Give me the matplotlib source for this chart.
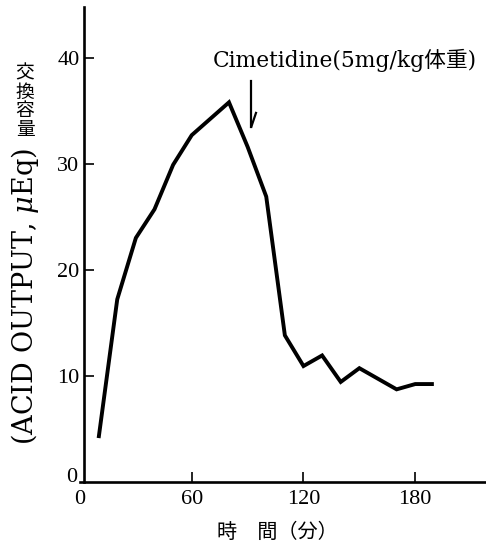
"""
Acid output after cimetidine: hand-drawn style time course.
"""
import matplotlib.pyplot as plt
import matplotlib.transforms as mtransforms

# data (minutes, microequivalents)
times = [10, 20, 30, 40, 50, 60, 80, 90, 100, 110, 120, 130, 140, 150, 170, 180, 190]
acid_output = [4.1, 17.2, 23.0, 25.7, 29.9, 32.7, 35.8, 31.6, 26.9, 13.8,
               10.9, 11.9, 9.4, 10.7, 8.7, 9.2, 9.2]
x_ticks = [0, 60, 120, 180]
y_ticks = [0, 10, 20, 30, 40]

dose_time = 92
dose_label = "Cimetidine(5mg/kg体重)"
y_label_latin = "(ACID OUTPUT, $\\mu$Eq)"
y_label_cjk = "交換容量"
x_label = "時　間（分）"

SERIF = ["DejaVu Serif", "Noto Sans CJK JP"]
TICKS = ["Liberation Serif", "DejaVu Serif"]
CJK = ["Noto Sans CJK JP", "DejaVu Sans"]


def main():
    plt.rcParams["mathtext.fontset"] = "dejavuserif"
    fig = plt.figure(figsize=(4.86, 5.46), dpi=100)
    ax = fig.add_axes([80 / 486, 1 - 481.5 / 546, 406 / 486, 474.5 / 546])
    ax.set_xlim(0, 218)
    ax.set_ylim(0, 44.8)

    ax.plot(times, acid_output, color="black", lw=2.8,
            solid_joinstyle="miter", solid_capstyle="butt")

    for side in ("top", "right"):
        ax.spines[side].set_visible(False)
    ax.spines["left"].set_position(("data", 2))
    ax.spines["left"].set_linewidth(1.9)
    ax.spines["bottom"].set_linewidth(1.9)

    ax.set_xticks(x_ticks)
    ax.set_yticks(y_ticks)
    ax.tick_params(axis="both", direction="in", length=7, width=1.2,
                   labelsize=16, pad=3)
    ax.tick_params(axis="x", pad=6)
    for lab in ax.get_xticklabels() + ax.get_yticklabels():
        lab.set_family(TICKS)
    ax.xaxis.get_major_ticks()[0].tick1line.set_visible(False)
    ax.yaxis.get_major_ticks()[0].tick1line.set_visible(False)
    # the y "0" sits a little above the axis line in the original
    zero = ax.get_yticklabels()[0]
    zero.set_transform(zero.get_transform() +
                       mtransforms.ScaledTranslation(-2 / 100, 7 / 100, fig.dpi_scale_trans))

    # dose arrow with a one-sided head
    top, tip = 37.8, 33.5
    ax.plot([dose_time, dose_time], [top, tip], color="black", lw=1.6)
    ax.plot([dose_time, dose_time + 2.5], [tip, tip + 1.3], color="black", lw=1.6)
    ax.text(71.4, 39.1, dose_label, fontsize=15.7, family=SERIF,
            ha="left", va="baseline")

    # y label: rotated latin part plus upright stacked kanji
    fig.text(25 / 486, 1 - 297 / 546, y_label_latin, rotation=90, fontsize=19.5,
             family=SERIF, ha="center", va="center")
    for i, ch in enumerate(y_label_cjk):
        fig.text(25 / 486, 1 - (73 + 19 * i) / 546, ch, fontsize=13.5,
                 family=CJK, ha="center", va="center")

    fig.text(277 / 486, 1 - 532 / 546, x_label, fontsize=14.5, family=CJK,
             ha="center", va="center")

    fig.savefig("out.png", dpi=100)


if __name__ == "__main__":
    main()
